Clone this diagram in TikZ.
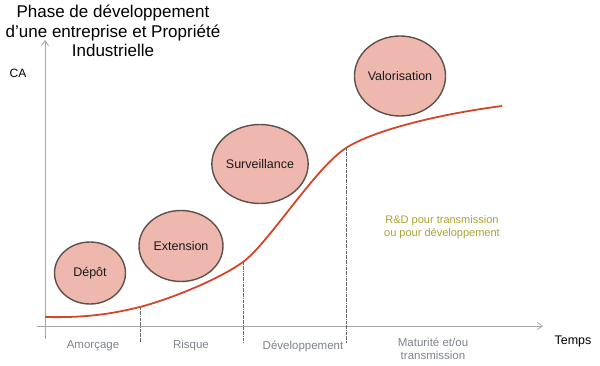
\documentclass[tikz,border=0pt]{standalone}
\usepackage{fontspec}
\setmainfont{Liberation Sans}
\usetikzlibrary{arrows.meta, positioning, shapes.geometric}

\definecolor{axisgray}{HTML}{A6A6A6}
\definecolor{curvered}{HTML}{D2472A}
\definecolor{bubblefill}{HTML}{EEB8AF}
\definecolor{bubbleline}{HTML}{5E504B}
\definecolor{phasegray}{HTML}{7D838C}
\definecolor{olivetext}{HTML}{A9A233}

\tikzset{
	bubble/.style = {ellipse, draw = bubbleline, line width = 1.4pt, fill = bubblefill,
		inner sep = 0pt, font = \fontsize{12.5}{14}\selectfont, text = black!90},
	phase/.style = {text = phasegray, font = \fontsize{11.5}{13}\selectfont, align = center},
	marker/.style = {densely dash dot, black!60, line width = 0.6pt}
}

\begin{document}
\begin{tikzpicture}[x = 1pt, y = -1pt, > = {Straight Barb[length = 5pt, width = 7pt]}]

	\useasboundingbox (0, 0) rectangle (600, 366);

	% Title

	\node [align = center, font = \fontsize{17}{19.5}\selectfont] (title) at (113, 31)
		{Phase de développement\\d’une entreprise et Propriété\\Industrielle};

	% Graph axes

	\coordinate (ybot) at (45, 339);
	\coordinate (ytop) at (45, 40);
	\coordinate (xleft) at (37, 326);
	\coordinate (xright) at (543, 326);
	\draw [->, axisgray, line width = 0.8pt] (ybot) -- (ytop);
	\draw [->, axisgray, line width = 0.8pt] (xleft) -- (xright);
	\node [font = \fontsize{12}{14}\selectfont] (ca) at (18, 73) {CA};
	\node [font = \fontsize{12.5}{14}\selectfont] (temps) at (573, 341) {Temps};

	% Graph curve

	\coordinate (c0) at (45, 317);
	\coordinate (c1) at (140, 307);
	\coordinate (c2) at (243, 262);
	\coordinate (c3) at (346, 148);
	\coordinate (c4) at (502, 106);
	\draw [curvered, line width = 1.8pt]
		(c0) .. controls (90, 318) and (115, 313) .. (c1)
		     .. controls (170, 299) and (218, 280) .. (c2)
		     .. controls (268, 244) and (315, 168) .. (c3)
		     .. controls (374, 130) and (440, 114) .. (c4);

	% Phase limits

	\foreach \c/\x in {c1/140, c2/243, c3/346}
		\draw [marker] (\c) -- (\x, 343);

	% Phase names

	\node [phase] (amorcage) at (93, 346) {Amorçage};
	\node [phase] (risque) at (191, 346) {Risque};
	\node [phase] (devel) at (303, 346) {Développement};
	\node [phase] (maturite) at (433, 349) {Maturité et/ou\\transmission};

	% Bubbles

	\node [bubble, minimum width = 71pt, minimum height = 62pt] (depot) at (90, 273) {Dépôt};
	\node [bubble, minimum width = 84pt, minimum height = 71pt] (extension) at (181, 246) {Extension};
	\node [bubble, minimum width = 87pt, minimum height = 79pt] (surveillance) at (260, 164) {Surveillance};
	\node [bubble, minimum width = 88pt, minimum height = 80pt] (valorisation) at (400, 76) {Valorisation};

	% Note

	\node [align = center, text = olivetext, font = \fontsize{11}{13.5}\selectfont] (rd) at (442, 227)
		{R\&D pour transmission\\ou pour développement};

\end{tikzpicture}
\end{document}
